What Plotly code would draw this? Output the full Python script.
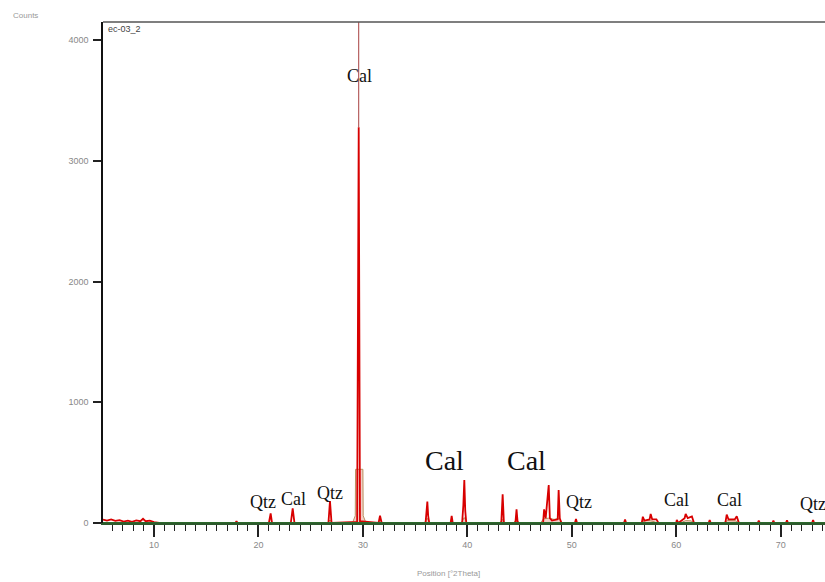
import plotly.graph_objects as go

# ---- measured pattern (red), 2theta vs counts ----
red_x = [5.12, 5.5, 5.9, 6.3, 6.7, 7.1, 7.5, 7.9, 8.3, 8.7, 8.95, 9.2, 9.6, 10.0, 10.5, 12.0, 13.0,
         14.0, 15.0, 16.0, 17.0, 17.8, 17.9, 18.0, 19.0, 20.0,
         21.0, 21.17, 21.3,
         23.1, 23.28, 23.45,
         26.7, 26.85, 27.0,
         29.45, 29.6, 29.72,
         31.5, 31.64, 31.8,
         36.0, 36.1, 36.17, 36.25, 36.35,
         38.4, 38.5, 38.6,
         39.5, 39.62, 39.71, 39.8, 39.9,
         43.25, 43.38, 43.5,
         44.6, 44.71, 44.82,
         47.25, 47.35, 47.5, 47.79, 47.9, 48.1, 48.65, 48.74, 48.85, 49.0,
         50.3, 50.4, 50.5,
         55.0, 55.1, 55.2,
         56.7, 56.8, 56.95, 57.45, 57.55, 57.7, 58.1, 58.3,
         60.0, 60.05, 60.2, 60.8, 60.9, 61.1, 61.5, 61.7,
         63.1, 63.2, 63.3,
         64.7, 64.83, 65.0, 65.6, 65.79, 66.0,
         67.8, 67.9, 68.0,
         69.2, 69.3, 69.4,
         70.5, 70.6, 70.7,
         73.0, 73.1, 73.2, 74.3]
red_y = [28, 20, 30, 18, 24, 12, 20, 10, 22, 15, 35, 15, 20, 8, 0, 0, 0,
         0, 0, 0, 0, 0, 15, 0, 0, 0,
         0, 80, 0,
         0, 122, 0,
         0, 182, 0,
         10, 3280, 15,
         0, 60, 0,
         0, 120, 177, 60, 0,
         0, 60, 0,
         0, 150, 357, 100, 0,
         0, 238, 0,
         0, 113, 0,
         0, 113, 40, 315, 40, 20, 30, 274, 40, 0,
         0, 33, 0,
         0, 30, 0,
         0, 52, 20, 30, 75, 30, 30, 0,
         0, 25, 0, 40, 75, 40, 55, 0,
         0, 25, 0,
         0, 70, 30, 30, 55, 0,
         0, 20, 0,
         0, 20, 0,
         0, 22, 0,
         0, 25, 0, 0]

# thin top of the main calcite reflection (runs off the top of the frame)
stick_x = [29.6, 29.6]
stick_y = [3280, 4400]

# background line (green)
bg_x = [5.12, 74.3]
bg_y = [0, 0]

# ---- calculated profile (pale fill) ----
calc_x = [5.12, 26.6, 26.85, 27.1,
          29.0, 29.15, 29.27, 29.3, 30.0, 30.03, 30.15, 30.3,
          31.4, 31.65, 31.9,
          35.9, 36.15, 36.4,
          38.3, 38.5, 38.7,
          39.4, 39.7, 40.0,
          43.1, 43.35, 43.6,
          44.4, 44.7, 45.0,
          47.0, 47.3, 47.8, 48.3, 48.8, 49.1,
          50.2, 50.4, 50.6,
          56.5, 57.0, 57.5, 58.3,
          60.4, 60.9, 61.4, 61.8,
          64.5, 64.9, 65.7, 66.0, 74.3]
calc_y = [0, 0, 25, 0,
          0, 35, 60, 445, 445, 60, 35, 0,
          0, 25, 0,
          0, 40, 0,
          0, 20, 0,
          0, 45, 0,
          0, 30, 0,
          0, 30, 0,
          0, 35, 40, 30, 40, 0,
          0, 10, 0,
          0, 20, 20, 0,
          0, 20, 18, 0,
          0, 20, 18, 0, 0]

# ---- phase labels ----
lab_text = ["Cal", "Qtz", "Cal", "Qtz", "Cal", "Cal", "Qtz", "Cal", "Cal", "Qtz"]
lab_x = [29.63, 20.44, 23.31, 26.85, 37.77, 45.62, 50.69, 60.0, 65.05, 73.05]
lab_y = [3701, 174, 199, 249, 515, 515, 174, 191, 191, 158]
lab_size = [18, 18, 18, 18, 28, 28, 18, 18, 18, 18]

x_ticks = [10, 20, 30, 40, 50, 60, 70]
y_ticks = [0, 1000, 2000, 3000, 4000]

fig = go.Figure()
fig.add_trace(go.Scatter(x=calc_x, y=calc_y, mode="lines", fill="tozeroy",
                         fillcolor="rgba(240,190,180,0.75)",
                         line=dict(color="#b89060", width=1), hoverinfo="skip"))
fig.add_trace(go.Scatter(x=red_x, y=red_y, mode="lines",
                         line=dict(color="#d80000", width=1.8)))
fig.add_trace(go.Scatter(x=stick_x, y=stick_y, mode="lines",
                         line=dict(color="#a84040", width=1)))
fig.add_trace(go.Scatter(x=bg_x, y=bg_y, mode="lines", cliponaxis=False,
                         line=dict(color="#2d6a2d", width=2.2)))

for t, x, y, s in zip(lab_text, lab_x, lab_y, lab_size):
    fig.add_annotation(x=x, y=y, xref="x", yref="y", text=t, showarrow=False,
                       xanchor="center", yanchor="middle",
                       font=dict(family="Liberation Serif", size=s, color="#111"))

fig.add_annotation(x=11, y=16, xref="paper", yref="paper", text="Counts", showarrow=False,
                   xanchor="left", yanchor="middle", font=dict(family="Liberation Sans", size=8, color="#999"))
fig.add_annotation(x=106, y=29, text="ec-03_2", showarrow=False, xanchor="left", yanchor="middle",
                   xref="paper", yref="paper",
                   font=dict(family="Liberation Sans", size=9, color="#444"))
fig.add_annotation(x=448, y=573, text="Position [°2Theta]", showarrow=False, xanchor="center",
                   yanchor="middle", xref="paper", yref="paper",
                   font=dict(family="Liberation Sans", size=8, color="#999"))

W, H = 825, 582
L, T, B, R = 103, 22, 59, 0
pw, ph = W - L - R, H - T - B
# convert pixel-positioned annotations (paper) into paper fractions
for a in fig.layout.annotations:
    if a.xref == "paper":
        a.x = (a.x - L) / pw
        a.y = 1 - (a.y - T) / ph

fig.add_shape(type="line", xref="paper", yref="paper", x0=0, x1=1, y0=1, y1=1,
              line=dict(color="#555", width=1.5))

fig.update_layout(
    width=W, height=H, margin=dict(l=L, r=R, t=T, b=B),
    paper_bgcolor="white", plot_bgcolor="white", showlegend=False,
    xaxis=dict(range=[5.12, 74.24], tickvals=x_ticks, ticks="outside", ticklen=12, tickwidth=1.5,
               tickcolor="#222", showline=True, linecolor="#2d5a2d", linewidth=2,
               showgrid=False, zeroline=False,
               tickfont=dict(family="Liberation Sans", size=9, color="#888"),
               minor=dict(dtick=1, tick0=0, ticks="outside", ticklen=6, tickwidth=1.2, tickcolor="#222")),
    yaxis=dict(range=[0, 4152], tickvals=y_ticks, ticks="outside", ticklen=8, tickwidth=1.5,
               tickcolor="#222", showline=True, linecolor="#111", linewidth=1.5,
               showgrid=False, zeroline=False, ticklabelstandoff=3,
               tickfont=dict(family="Liberation Sans", size=9, color="#888")),
)

fig.write_html("out.html")
